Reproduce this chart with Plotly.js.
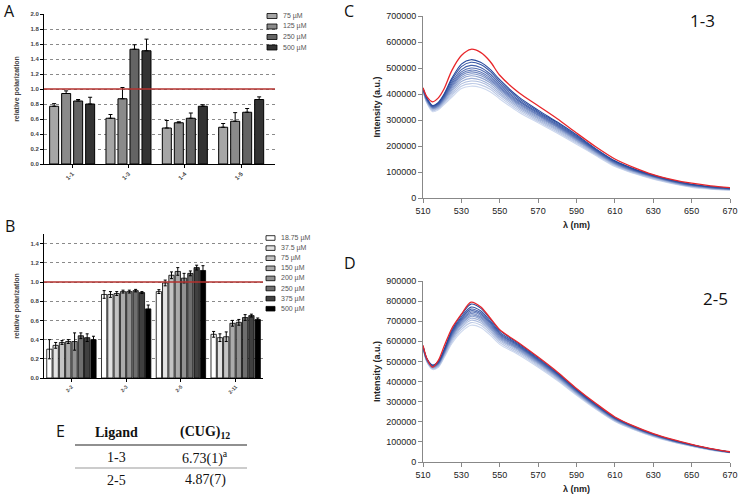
<!DOCTYPE html>
<html><head><meta charset="utf-8">
<script src="https://cdn.plot.ly/plotly-3.0.1.min.js"></script>
<style>html,body{margin:0;padding:0;background:#fff}#plot{width:740px;height:497px}</style>
</head><body><div id="plot"></div>
<script>
// ---------- Panel A data ----------
const groupsA = ['1-1','1-3','1-4','1-5'];
const concA = ['75 µM','125 µM','250 µM','500 µM'];
const a75  = [0.77, 0.61, 0.48, 0.49];
const a125 = [0.94, 0.87, 0.55, 0.57];
const a250 = [0.84, 1.53, 0.61, 0.69];
const a500 = [0.80, 1.51, 0.77, 0.86];
const e75  = [0.035, 0.05, 0.10, 0.05];
const e125 = [0.035, 0.15, 0.013, 0.115];
const e250 = [0.02, 0.06, 0.07, 0.05];
const e500 = [0.09, 0.155, 0.02, 0.035];
const colorsA = ['#a6a6a6','#8a8a8a','#646464','#333333'];

// ---------- Panel B data ----------
const groupsB = ['2-2','2-3','2-5','2-11'];
const concB = ['18.75 µM','37.5 µM','75 µM','150 µM','200 µM','250 µM','375 µM','500 µM'];
const b1875 = [0.30, 0.87, 0.90, 0.455];
const b375  = [0.34, 0.87, 0.99, 0.42];
const b75   = [0.37, 0.88, 1.07, 0.43];
const b150  = [0.38, 0.90, 1.11, 0.57];
const b200  = [0.38, 0.90, 1.04, 0.58];
const b250  = [0.44, 0.91, 1.09, 0.63];
const b375b = [0.42, 0.89, 1.15, 0.65];
const b500  = [0.40, 0.72, 1.12, 0.61];
const eb1875 = [0.10, 0.04, 0.02, 0.03];
const eb375  = [0.03, 0.03, 0.03, 0.04];
const eb75   = [0.02, 0.02, 0.035, 0.05];
const eb150  = [0.02, 0.015, 0.04, 0.03];
const eb200  = [0.09, 0.015, 0.05, 0.03];
const eb250  = [0.03, 0.013, 0.025, 0.03];
const eb375b = [0.04, 0.01, 0.025, 0.015];
const eb500  = [0.035, 0.04, 0.05, 0.015];
const colorsB = ['#ffffff','#e2e2e2','#c4c4c4','#ababab','#919191','#6e6e6e','#404040','#000000'];

// ---------- Panel C / D spectra (intensity in thousands a.u.) ----------
const lambda = [510,512,515,518,521,525,530,535,540,545,550,560,570,580,590,600,610,620,630,640,650,660,670];
const redC = [424,390,370,385,420,490,548,572,560,525,472,405,355,305,250,197,150,117,90,71,57,47,40];
const c01 = [422,385,356,368,400,460,515,532,522,495,455,388,338,292,243,190,143,112,88,68,53,44,38];
const c02 = [421,383,354,365,396,453,505,522,513,487,448,382,333,288,239,187,141,110,86,67,52,43,37];
const c03 = [420,381,352,362,392,445,494,510,502,477,440,376,328,284,236,185,139,108,85,66,51,42,36];
const c04 = [420,379,350,360,388,438,485,500,493,469,433,371,324,280,233,183,137,107,84,65,50,41,36];
const c05 = [419,378,349,358,385,432,478,492,485,462,427,366,320,277,230,181,136,106,83,64,49,41,35];
const c06 = [418,376,347,356,382,427,471,485,478,456,422,362,317,274,228,179,134,104,82,63,48,40,35];
const c07 = [417,375,346,354,379,421,464,478,471,450,417,358,313,271,225,177,133,103,81,62,47,39,34];
const c08 = [416,373,344,352,376,415,457,470,463,443,411,353,309,267,222,175,131,102,80,61,46,38,34];
const c09 = [415,371,342,349,372,408,448,460,454,435,404,348,304,263,219,172,129,100,78,60,45,37,33];
const c10 = [414,369,339,346,368,401,439,450,445,427,397,342,299,259,215,169,127,98,76,58,44,36,32];
const c11 = [413,367,336,343,364,394,430,440,435,418,389,336,294,254,211,166,124,96,74,57,43,35,31];
const c12 = [412,365,332,339,359,387,421,430,425,409,381,330,289,249,207,163,121,94,72,55,41,34,30];

const redD = [580,515,472,505,575,664,735,795,772,716,658,592,522,448,366,292,224,178,141,112,88,67,51];
const d01 = [578,515,482,500,560,655,732,785,765,712,654,588,518,444,362,288,221,176,139,110,86,66,50];
const d02 = [577,513,480,497,555,648,722,770,752,702,646,582,513,440,359,285,219,174,138,109,85,65,50];
const d03 = [576,511,478,494,551,642,714,760,743,695,640,577,509,437,356,283,217,173,137,108,85,65,49];
const d04 = [575,510,476,492,548,637,708,752,736,689,635,573,506,434,354,281,216,172,136,107,84,64,49];
const d05 = [574,509,475,490,545,632,702,745,729,683,630,569,502,431,352,279,214,171,135,106,84,64,49];
const d06 = [573,507,473,488,542,627,696,738,722,677,625,565,499,428,350,277,213,170,134,106,83,63,48];
const d07 = [572,506,472,486,539,622,690,731,716,671,620,561,496,425,347,275,211,168,133,105,82,63,48];
const d08 = [571,504,470,484,536,617,684,724,709,665,615,557,492,422,345,273,210,167,132,104,82,62,48];
const d09 = [570,503,468,481,532,611,676,715,701,658,609,552,488,419,342,271,208,166,131,103,81,62,47];
const d10 = [569,501,466,478,528,604,668,705,692,650,602,546,483,415,339,269,206,164,130,102,80,61,47];
const d11 = [568,499,463,475,523,596,658,693,681,641,594,539,477,410,336,266,204,162,128,101,79,60,46];
const d12 = [567,497,460,471,518,588,647,680,669,631,585,532,471,405,332,263,201,160,126,99,78,59,46];

// ---------- Table E ----------
const tableHeader = ['Ligand', '(CUG)<sub>12</sub>'];
const tableLigand = ['1-3', '2-5'];
const tableValue = ['6.73(1)<sup>a</sup>', '4.87(7)'];

// ---------- helpers ----------
const W = 740, H = 497;
const px = v => v / W;
const py = v => 1 - v / H;
const traces = [];

// Panel A bars
const seriesA = [a75, a125, a250, a500];
const errsA = [e75, e125, e250, e500];
seriesA.forEach((vals, i) => {
  traces.push({
    type: 'bar', x: [0,1,2,3], y: vals, name: concA[i],
    xaxis: 'x', yaxis: 'y', width: 0.16, offset: -0.4 + i * 0.213,
    marker: {color: colorsA[i], line: {color: '#000', width: 1}},
    error_y: {type: 'data', array: errsA[i], arrayminus: errsA[i].map(() => 0), symmetric: false,
              color: '#000', thickness: 1, width: 2},
    showlegend: false, hoverinfo: 'skip'
  });
});

// Panel B bars
const seriesB = [b1875, b375, b75, b150, b200, b250, b375b, b500];
const errsB = [eb1875, eb375, eb75, eb150, eb200, eb250, eb375b, eb500];
seriesB.forEach((vals, i) => {
  traces.push({
    type: 'bar', x: [0,1,2,3], y: vals, name: concB[i],
    xaxis: 'x2', yaxis: 'y2', width: 0.097, offset: -0.45 + i * 0.115,
    marker: {color: colorsB[i], line: {color: '#000', width: 0.8}},
    error_y: {type: 'data', array: errsB[i], color: '#000', thickness: 1, width: 1.5},
    showlegend: false, hoverinfo: 'skip'
  });
});

// Spectra
function blueShade(i, n) {
  const t = i / (n - 1);
  const dark = [38, 72, 156], light = [205, 216, 238];
  const c = dark.map((d, k) => Math.round(d + (light[k] - d) * t));
  return 'rgb(' + c.join(',') + ')';
}
const blueC = [c01,c02,c03,c04,c05,c06,c07,c08,c09,c10,c11,c12];
const blueD = [d01,d02,d03,d04,d05,d06,d07,d08,d09,d10,d11,d12];
for (let i = blueC.length - 1; i >= 0; i--) {
  traces.push({type: 'scatter', mode: 'lines', x: lambda, y: blueC[i].map(v => v * 1000),
    xaxis: 'x3', yaxis: 'y3', line: {color: blueShade(i, blueC.length), width: 1.1, shape: 'spline', smoothing: 0.8},
    showlegend: false, hoverinfo: 'skip'});
}
traces.push({type: 'scatter', mode: 'lines', x: lambda, y: redC.map(v => v * 1000),
  xaxis: 'x3', yaxis: 'y3', line: {color: '#e8262a', width: 1.3, shape: 'spline', smoothing: 0.8},
  showlegend: false, hoverinfo: 'skip'});
for (let i = blueD.length - 1; i >= 0; i--) {
  traces.push({type: 'scatter', mode: 'lines', x: lambda, y: blueD[i].map(v => v * 1000),
    xaxis: 'x4', yaxis: 'y4', line: {color: blueShade(i, blueD.length), width: 1.1, shape: 'spline', smoothing: 0.8},
    showlegend: false, hoverinfo: 'skip'});
}
traces.push({type: 'scatter', mode: 'lines', x: lambda, y: redD.map(v => v * 1000),
  xaxis: 'x4', yaxis: 'y4', line: {color: '#e8262a', width: 1.3, shape: 'spline', smoothing: 0.8},
  showlegend: false, hoverinfo: 'skip'});

const barTickFont = {family: 'Liberation Sans, Arial, sans-serif', size: 6, color: '#444', weight: 'bold'};
const specTickFont = {family: 'Liberation Sans, Arial, sans-serif', size: 9, color: '#222'};
const specTitleFont = {family: 'Liberation Sans, Arial, sans-serif', size: 9, color: '#222', weight: 'bold'};

const shapes = [];
const annotations = [];

// red reference lines at 1.0
shapes.push({type: 'line', xref: 'x domain', yref: 'y', x0: 0, x1: 1, y0: 1, y1: 1, line: {color: '#b3322f', width: 1.3}});
shapes.push({type: 'line', xref: 'x2 domain', yref: 'y2', x0: 0, x1: 1, y0: 1, y1: 1, line: {color: '#b3322f', width: 1.3}});

// custom legends
concA.forEach((name, i) => {
  const yc = 16 + i * 10.5;
  shapes.push({type: 'rect', xref: 'paper', yref: 'paper', x0: px(267), x1: px(277), y0: py(yc + 2.5), y1: py(yc - 2.5),
    fillcolor: colorsA[i], line: {color: '#000', width: 0.8}});
  annotations.push({xref: 'paper', yref: 'paper', x: px(281), y: py(yc), xanchor: 'left', yanchor: 'middle', showarrow: false,
    text: name, font: {family: 'Liberation Sans, Arial, sans-serif', size: 7, color: '#555'}});
});
concB.forEach((name, i) => {
  const yc = 238 + i * 10.1;
  shapes.push({type: 'rect', xref: 'paper', yref: 'paper', x0: px(266), x1: px(275), y0: py(yc + 2.3), y1: py(yc - 2.3),
    fillcolor: colorsB[i], line: {color: '#000', width: 0.8}});
  annotations.push({xref: 'paper', yref: 'paper', x: px(279), y: py(yc), xanchor: 'left', yanchor: 'middle', showarrow: false,
    text: name, font: {family: 'Liberation Sans, Arial, sans-serif', size: 7, color: '#555'}});
});

// panel letters
const letterFont = {family: 'Open Sans, Liberation Sans, sans-serif', size: 16, color: '#111'};
[['A', 9, 11], ['B', 10, 226], ['C', 349, 11], ['D', 350, 263], ['E', 60, 431]].forEach(([t, x, y]) => {
  annotations.push({xref: 'paper', yref: 'paper', x: px(x), y: py(y), xanchor: 'center', yanchor: 'middle', showarrow: false, text: t, font: letterFont});
});
annotations.push({xref: 'paper', yref: 'paper', x: px(702), y: py(20), xanchor: 'center', yanchor: 'middle', showarrow: false,
  text: '1-3', font: {family: 'Open Sans, Liberation Sans, sans-serif', size: 17, color: '#111'}});
annotations.push({xref: 'paper', yref: 'paper', x: px(715), y: py(298), xanchor: 'center', yanchor: 'middle', showarrow: false,
  text: '2-5', font: {family: 'Open Sans, Liberation Sans, sans-serif', size: 17, color: '#111'}});

// table E
const serif = 'Liberation Serif, Times New Roman, serif';
annotations.push({xref: 'paper', yref: 'paper', x: px(116), y: py(432), showarrow: false, xanchor: 'center', yanchor: 'middle',
  text: '<b>' + tableHeader[0] + '</b>', font: {family: serif, size: 14, color: '#111'}});
annotations.push({xref: 'paper', yref: 'paper', x: px(205), y: py(432), showarrow: false, xanchor: 'center', yanchor: 'middle',
  text: '<b>' + tableHeader[1] + '</b>', font: {family: serif, size: 14, color: '#111'}});
tableLigand.forEach((lig, i) => {
  const yc = 457 + i * 23;
  annotations.push({xref: 'paper', yref: 'paper', x: px(116), y: py(yc), showarrow: false, xanchor: 'center', yanchor: 'middle',
    text: lig, font: {family: serif, size: 14, color: '#111'}});
  annotations.push({xref: 'paper', yref: 'paper', x: px(205), y: py(yc), showarrow: false, xanchor: 'center', yanchor: 'middle',
    text: tableValue[i], font: {family: serif, size: 14, color: '#111'}});
});
shapes.push({type: 'line', xref: 'paper', yref: 'paper', x0: px(75), x1: px(247), y0: py(445), y1: py(445), line: {color: '#222', width: 1.2}});
shapes.push({type: 'line', xref: 'paper', yref: 'paper', x0: px(75), x1: px(247), y0: py(468), y1: py(468), line: {color: '#999', width: 1}});

const layout = {
  width: W, height: H, margin: {l: 0, r: 0, t: 0, b: 0},
  paper_bgcolor: '#fff', plot_bgcolor: 'rgba(0,0,0,0)',
  barmode: 'overlay', showlegend: false,
  xaxis: {domain: [px(44), px(275)], range: [-0.5, 3.6], anchor: 'y',
    tickmode: 'array', tickvals: [0,1,2,3], ticktext: groupsA, tickangle: -45, tickfont: barTickFont,
    showline: true, linecolor: '#000', linewidth: 1, ticks: 'outside', ticklen: 3, tickcolor: '#000',
    showgrid: false, zeroline: false, fixedrange: true},
  yaxis: {domain: [py(164), py(14)], range: [0, 2.0], anchor: 'x', dtick: 0.2, tickformat: '.1f',
    tickfont: barTickFont, showline: true, linecolor: '#000', linewidth: 1, ticks: 'outside', ticklen: 3, tickcolor: '#000',
    showgrid: true, gridcolor: '#8a8a8a', griddash: 'dot', gridwidth: 1, zeroline: false,
    title: {text: 'relative polarization', font: {family: 'Liberation Sans, Arial, sans-serif', size: 7, color: '#444', weight: 'bold'}, standoff: 10}},
  xaxis2: {domain: [px(44), px(263)], range: [-0.5, 3.5], anchor: 'y2',
    tickmode: 'array', tickvals: [0,1,2,3], ticktext: groupsB, tickangle: -45, tickfont: {family: 'Liberation Sans, Arial, sans-serif', size: 5, color: '#444', weight: 'bold'},
    showline: true, linecolor: '#000', linewidth: 1, ticks: 'outside', ticklen: 3, tickcolor: '#000',
    showgrid: false, zeroline: false},
  yaxis2: {domain: [py(378), py(234)], range: [0, 1.5], anchor: 'x2', tickvals: [0, 0.2, 0.4, 0.6, 0.8, 1.0, 1.2, 1.4], tickformat: '.1f',
    tickfont: barTickFont, showline: true, linecolor: '#000', linewidth: 1, ticks: 'outside', ticklen: 3, tickcolor: '#000',
    showgrid: true, gridcolor: '#8a8a8a', griddash: 'dot', gridwidth: 1, zeroline: false,
    title: {text: 'relative polarization', font: {family: 'Liberation Sans, Arial, sans-serif', size: 7, color: '#444', weight: 'bold'}, standoff: 10}},
  xaxis3: {domain: [px(423), px(730)], range: [510, 670], anchor: 'y3', dtick: 20, tick0: 510,
    tickfont: specTickFont, showline: true, linecolor: '#888', ticks: 'outside', ticklen: 4, tickcolor: '#888',
    showgrid: false, zeroline: false,
    title: {text: 'λ (nm)', font: specTitleFont, standoff: 6}},
  yaxis3: {domain: [py(198), py(16)], range: [0, 700000], anchor: 'x3', dtick: 100000, tickformat: 'd',
    tickfont: specTickFont, showline: true, linecolor: '#888', ticks: 'outside', ticklen: 4, tickcolor: '#888',
    showgrid: false, zeroline: false,
    title: {text: 'Intensity (a.u.)', font: specTitleFont, standoff: 4}},
  xaxis4: {domain: [px(423), px(730)], range: [510, 670], anchor: 'y4', dtick: 20, tick0: 510,
    tickfont: specTickFont, showline: true, linecolor: '#888', ticks: 'outside', ticklen: 4, tickcolor: '#888',
    showgrid: false, zeroline: false,
    title: {text: 'λ (nm)', font: specTitleFont, standoff: 6}},
  yaxis4: {domain: [py(462), py(281)], range: [0, 900000], anchor: 'x4', dtick: 100000, tickformat: 'd',
    tickfont: specTickFont, showline: true, linecolor: '#888', ticks: 'outside', ticklen: 4, tickcolor: '#888',
    showgrid: false, zeroline: false,
    title: {text: 'Intensity (a.u.)', font: specTitleFont, standoff: 4}},
  shapes: shapes, annotations: annotations
};

Plotly.newPlot('plot', traces, layout, {staticPlot: true, displayModeBar: false});
</script>
</body></html>
